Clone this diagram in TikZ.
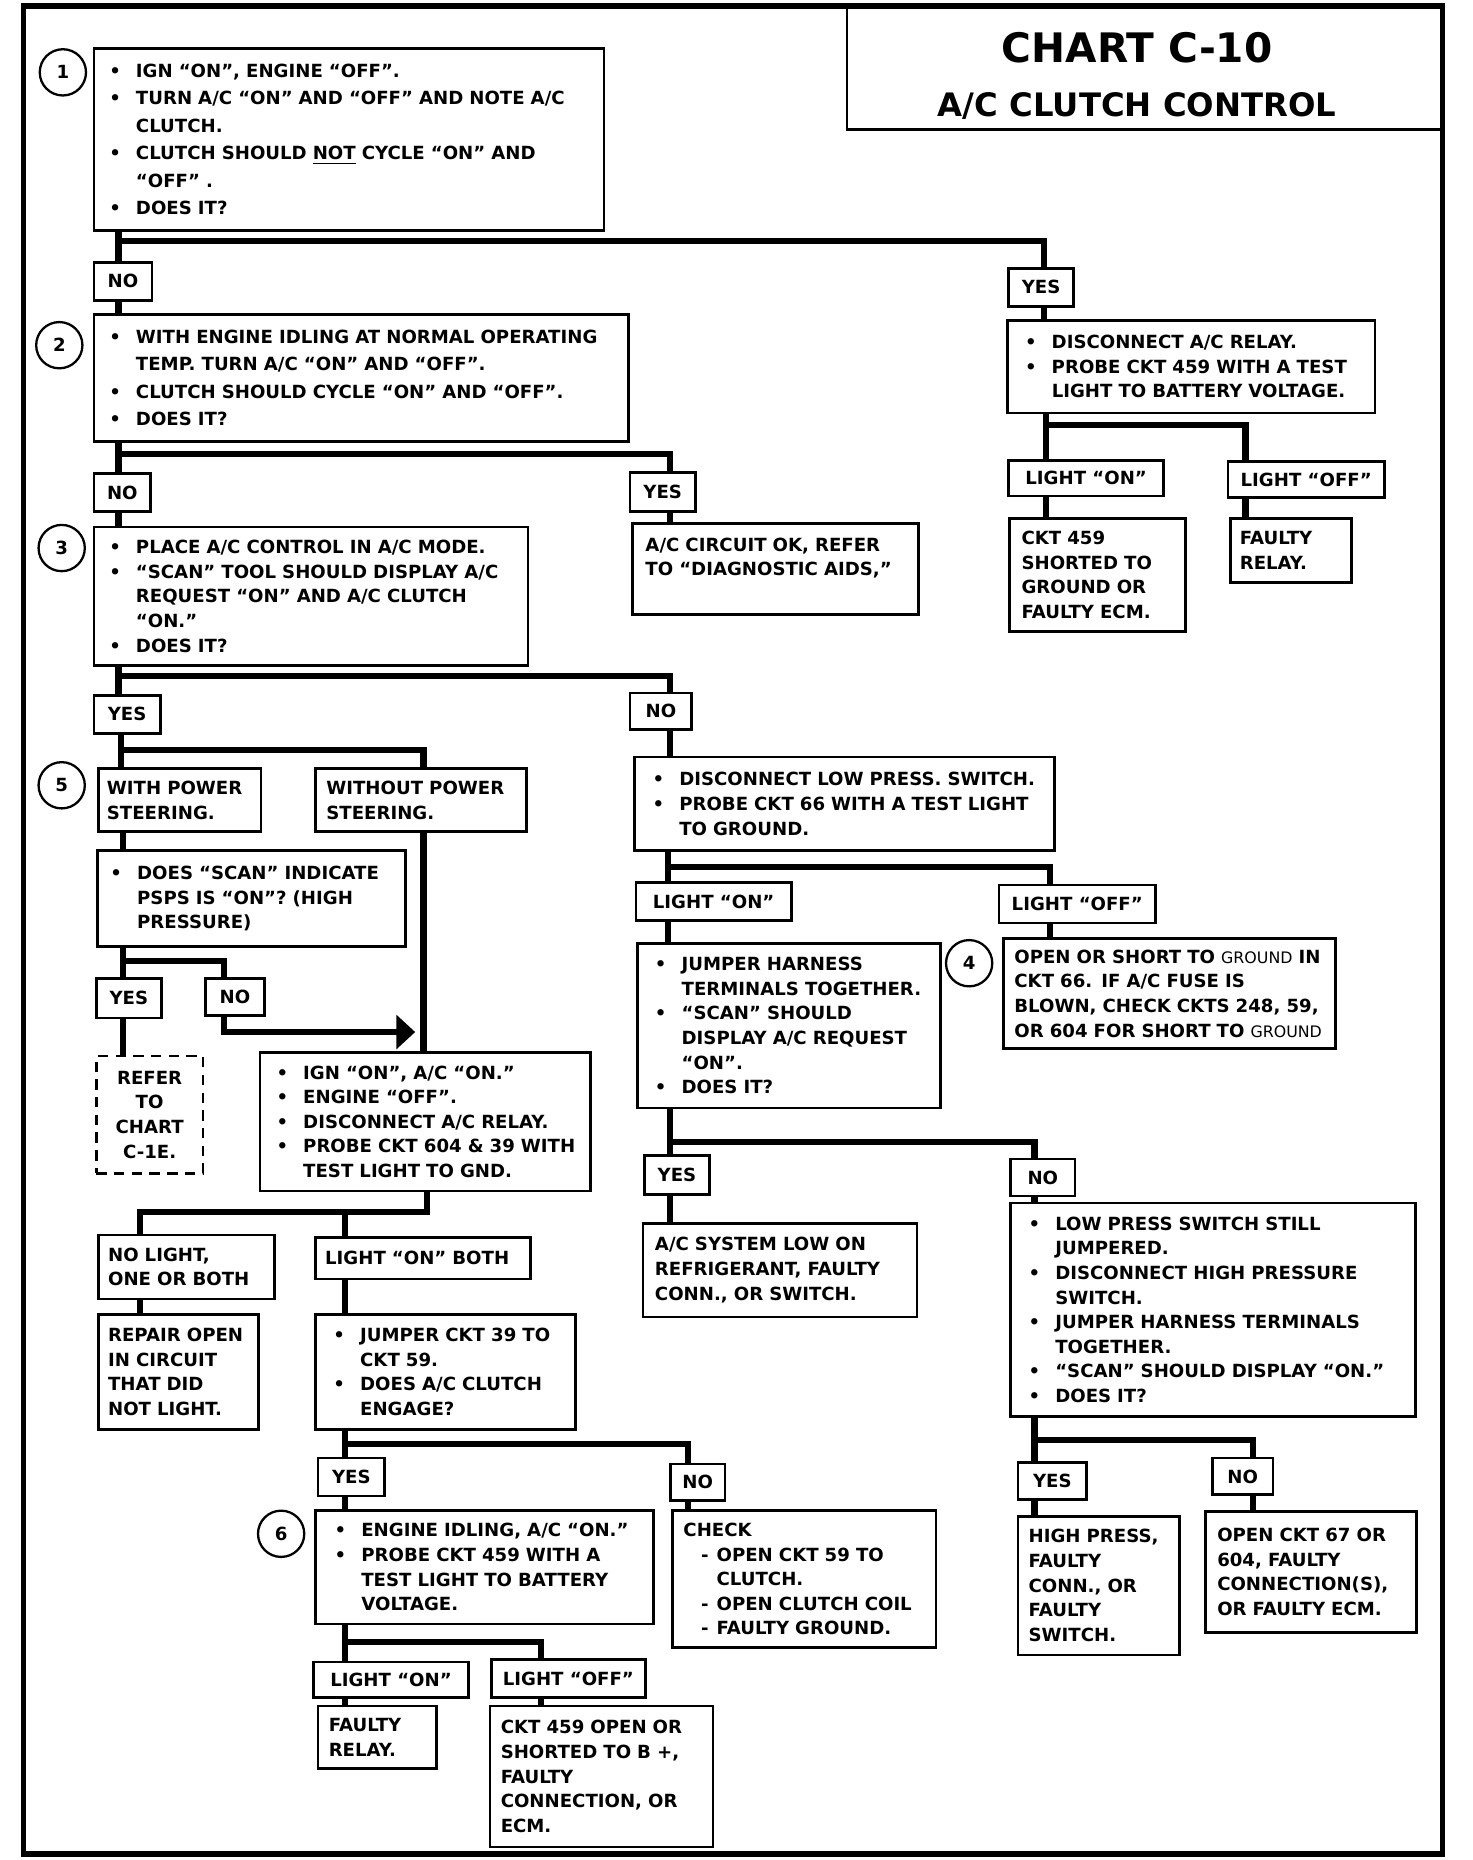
\documentclass[tikz,border=0pt]{standalone}
\usepackage{fontspec}
\setmainfont{DejaVu Sans}
\usetikzlibrary{arrows.meta}

% lines of a box
\newcommand{\bitm}[1]{\makebox[0.45cm][l]{\textbullet}\mbox{#1}}
\newcommand{\citm}[1]{\hspace*{0.45cm}\mbox{#1}}
\newcommand{\ditm}[1]{\hspace*{0.3cm}\makebox[0.26cm][l]{-}\mbox{#1}}
\newcommand{\gnd}{{\mdseries\fontsize{7.6}{11.8}\selectfont GROUND}}

\tikzset{
  every node/.style={font=\bfseries\fontsize{8.7}{11.8}\selectfont},
  loose/.style={font=\bfseries\fontsize{8.7}{13.2}\selectfont},
  stepbox/.style={draw, line width=1.3pt, anchor=north west, align=left, inner ysep=0pt},
  tag/.style={draw, line width=1.3pt, anchor=north west, inner sep=0pt},
  numcirc/.style={draw, circle, line width=1.1pt, minimum size=0.78cm, inner sep=0pt},
  link/.style={line width=3pt}
}

\begin{document}
\begin{tikzpicture}[x=0.02cm,y=-0.02cm]
  \useasboundingbox (0,0) rectangle (1241,1568);
  \draw[line width=2.6pt] (20,5) rectangle (1216,1563);
  \node[draw, line width=1.3pt, anchor=north west, minimum width=10.06cm, minimum height=2.06cm,
    align=center, font=\bfseries\fontsize{19.5}{26}\selectfont] (title) at (713,5)
    {\rule{0pt}{22pt}CHART C-10\hspace*{0.28cm}\\{\fontsize{15.5}{26}\selectfont A/C CLUTCH CONTROL\hspace*{0.28cm}}};

  % step numbers
  \node[numcirc] (n1) at (53,61) {1};
  \node[numcirc] (n2) at (50,291) {2};
  \node[numcirc] (n3) at (52,462) {3};
  \node[numcirc] (n5) at (52,662) {5};
  \node[numcirc] (n4) at (817,812) {4};
  \node[numcirc] (n6) at (237,1293) {6};

  % left column
  \node[stepbox, loose, minimum width=8.6cm, minimum height=3.06cm, text width=8.08cm, inner xsep=0.26cm] (chk1) at (78,40)
    {\bitm{IGN “ON”, ENGINE “OFF”.}\\
     \bitm{TURN A/C “ON”  AND “OFF”  AND NOTE A/C}\\
     \citm{CLUTCH.}\\
     \bitm{CLUTCH SHOULD \underline{NOT} CYCLE  “ON” AND}\\
     \citm{“OFF” .}\\
     \bitm{DOES IT?}};
  \node[tag, minimum width=0.98cm, minimum height=0.64cm] (no1) at (78,220) {NO};
  \node[stepbox, loose, minimum width=9.02cm, minimum height=2.14cm, text width=8.5cm, inner xsep=0.26cm] (chk2) at (78,264)
    {\bitm{WITH ENGINE IDLING AT NORMAL OPERATING}\\
     \citm{TEMP. TURN A/C “ON” AND “OFF”.}\\
     \bitm{CLUTCH SHOULD CYCLE “ON” AND “OFF”.}\\
     \bitm{DOES IT?}};
  \node[tag, minimum width=0.96cm, minimum height=0.64cm] (no2) at (78,398) {NO};
  \node[tag, minimum width=1.1cm, minimum height=0.66cm] (yes2) at (530,397) {YES};
  \node[stepbox, minimum width=4.82cm, minimum height=1.54cm, text width=4.38cm, inner xsep=0.22cm] (acok) at (532,440)
    {\mbox{A/C CIRCUIT OK, REFER}\\\mbox{TO “DIAGNOSTIC AIDS,”}\\\mbox{}};
  \node[stepbox, minimum width=7.32cm, minimum height=2.34cm, text width=6.8cm, inner xsep=0.26cm] (chk3) at (78,443)
    {\bitm{PLACE A/C CONTROL IN A/C MODE.}\\
     \bitm{“SCAN” TOOL SHOULD DISPLAY A/C}\\
     \citm{REQUEST “ON” AND A/C CLUTCH}\\
     \citm{“ON.”}\\
     \bitm{DOES IT?}};
  \node[tag, minimum width=1.12cm, minimum height=0.64cm] (yes3) at (78,585) {YES};
  \node[tag, minimum width=1.04cm, minimum height=0.62cm] (no3) at (530,583) {NO};
  \node[stepbox, minimum width=2.74cm, minimum height=1.06cm, text width=2.46cm, inner xsep=0.14cm] (withps) at (82,647)
    {WITH POWER\\STEERING.};
  \node[stepbox, minimum width=3.56cm, minimum height=1.06cm, text width=3.2cm, inner xsep=0.18cm] (nops) at (265,647)
    {WITHOUT POWER\\STEERING.};
  \node[stepbox, minimum width=5.2cm, minimum height=1.62cm, text width=4.76cm, inner xsep=0.22cm] (psps) at (81,716)
    {\bitm{DOES “SCAN” INDICATE}\\
     \citm{PSPS IS “ON”? (HIGH}\\
     \citm{PRESSURE)}};
  \node[tag, minimum width=1.1cm, minimum height=0.66cm] (yes4) at (80,824) {YES};
  \node[tag, minimum width=1.0cm, minimum height=0.62cm] (no4) at (172,824) {NO};
  \node[stepbox, dash pattern=on 5pt off 3.5pt, align=center, inner xsep=0pt, minimum width=1.8cm, minimum height=1.98cm] (refer) at (80,889)
    {REFER\\TO\\CHART\\C-1E.};
  \node[stepbox, minimum width=5.58cm, minimum height=2.34cm, text width=5.02cm, inner xsep=0.28cm] (ign) at (218,886)
    {\bitm{IGN “ON”, A/C “ON.”}\\
     \bitm{ENGINE “OFF”.}\\
     \bitm{DISCONNECT A/C RELAY.}\\
     \bitm{PROBE CKT 604 \& 39 WITH}\\
     \citm{TEST LIGHT TO GND.}};
  \node[stepbox, minimum width=2.96cm, minimum height=1.08cm, text width=2.64cm, inner xsep=0.16cm] (nolight) at (82,1040)
    {NO LIGHT,\\ONE OR BOTH};
  \node[stepbox, minimum width=3.62cm, minimum height=0.7cm, text width=3.3cm, inner xsep=0.16cm] (lonboth) at (265,1042)
    {LIGHT “ON” BOTH};
  \node[stepbox, minimum width=2.7cm, minimum height=1.94cm, text width=2.38cm, inner xsep=0.16cm] (repair) at (82,1107)
    {REPAIR OPEN\\IN CIRCUIT\\THAT DID\\NOT LIGHT.};
  \node[stepbox, minimum width=4.38cm, minimum height=1.94cm, text width=3.78cm, inner xsep=0.3cm] (jump39) at (265,1107)
    {\bitm{JUMPER CKT 39 TO}\\
     \citm{CKT 59.}\\
     \bitm{DOES A/C CLUTCH}\\
     \citm{ENGAGE?}};
  \node[tag, minimum width=1.12cm, minimum height=0.64cm] (yes5) at (267,1228) {YES};
  \node[tag, minimum width=0.92cm, minimum height=0.62cm] (no5) at (564,1233) {NO};
  \node[stepbox, minimum width=5.7cm, minimum height=1.92cm, text width=5.06cm, inner xsep=0.32cm] (chk6) at (265,1272)
    {\bitm{ENGINE  IDLING, A/C “ON.”}\\
     \bitm{PROBE CKT 459 WITH A}\\
     \citm{TEST LIGHT TO BATTERY}\\
     \citm{VOLTAGE.}};
  \node[stepbox, minimum width=4.44cm, minimum height=2.32cm, text width=4.08cm, inner xsep=0.18cm] (check) at (566,1272)
    {CHECK\\
     \ditm{OPEN CKT 59 TO}\\
     \hspace*{0.56cm}\mbox{CLUTCH.}\\
     \ditm{OPEN CLUTCH COIL}\\
     \ditm{FAULTY GROUND.}};
  \node[tag, minimum width=2.62cm, minimum height=0.6cm] (lon6) at (263,1400) {LIGHT “ON”};
  \node[tag, minimum width=2.6cm, minimum height=0.64cm] (loff6) at (413,1398) {LIGHT “OFF”};
  \node[stepbox, minimum width=2.0cm, minimum height=1.06cm, text width=1.64cm, inner xsep=0.18cm] (relay6) at (267,1437)
    {FAULTY\\RELAY.};
  \node[stepbox, minimum width=3.76cm, minimum height=2.38cm, text width=3.4cm, inner xsep=0.18cm] (open459) at (412,1437)
    {CKT 459 OPEN OR\\SHORTED TO B +,\\FAULTY\\CONNECTION, OR\\ECM.};

  % right column
  \node[tag, minimum width=1.1cm, minimum height=0.64cm] (yes1) at (849,225) {YES};
  \node[stepbox, minimum width=6.2cm, minimum height=1.56cm, text width=5.6cm, inner xsep=0.3cm] (relay) at (848,269)
    {\bitm{DISCONNECT A/C RELAY.}\\
     \bitm{PROBE CKT 459 WITH A TEST}\\
     \citm{LIGHT TO BATTERY VOLTAGE.}};
  \node[tag, minimum width=2.62cm, minimum height=0.6cm] (lonR) at (849,387) {LIGHT “ON”};
  \node[tag, minimum width=2.64cm, minimum height=0.6cm] (loffR) at (1034,388) {LIGHT “OFF”};
  \node[stepbox, minimum width=2.96cm, minimum height=1.9cm, text width=2.56cm, inner xsep=0.2cm] (short459) at (850,436)
    {CKT 459\\SHORTED TO\\GROUND OR\\FAULTY ECM.};
  \node[stepbox, minimum width=2.04cm, minimum height=1.08cm, text width=1.72cm, inner xsep=0.16cm] (relayR) at (1036,436)
    {FAULTY\\RELAY.};
  \node[stepbox, minimum width=7.08cm, minimum height=1.58cm, text width=6.48cm, inner xsep=0.3cm] (lowsw) at (534,637)
    {\bitm{DISCONNECT LOW PRESS. SWITCH.}\\
     \bitm{PROBE CKT 66 WITH A TEST LIGHT}\\
     \citm{TO GROUND.}};
  \node[tag, minimum width=2.62cm, minimum height=0.64cm] (lonM) at (535,743) {LIGHT “ON”};
  \node[tag, minimum width=2.64cm, minimum height=0.64cm] (loffM) at (841,745) {LIGHT “OFF”};
  \node[stepbox, minimum width=5.12cm, minimum height=2.78cm, text width=4.52cm, inner xsep=0.3cm] (chk4) at (536,794)
    {\bitm{JUMPER HARNESS}\\
     \citm{TERMINALS TOGETHER.}\\
     \bitm{“SCAN” SHOULD}\\
     \citm{DISPLAY A/C REQUEST}\\
     \citm{“ON”.}\\
     \bitm{DOES IT?}};
  \node[stepbox, minimum width=5.6cm, minimum height=1.86cm, text width=5.24cm, inner xsep=0.18cm] (gndshort) at (845,790)
    {\mbox{OPEN OR SHORT TO \gnd\ IN}\\
     \mbox{CKT 66.  IF A/C FUSE IS}\\
     \mbox{BLOWN, CHECK CKTS 248, 59,}\\
     \mbox{OR 604 FOR SHORT TO \gnd}};
  \node[tag, minimum width=1.1cm, minimum height=0.66cm] (yes6) at (542,973) {YES};
  \node[tag, minimum width=1.08cm, minimum height=0.62cm] (no6) at (851,976) {NO};
  \node[stepbox, minimum width=4.62cm, minimum height=1.58cm, text width=4.22cm, inner xsep=0.2cm] (lowref) at (541,1030)
    {A/C SYSTEM LOW ON\\REFRIGERANT, FAULTY\\CONN., OR SWITCH.};
  \node[stepbox, minimum width=6.82cm, minimum height=3.6cm, text width=6.22cm, inner xsep=0.3cm] (hiswitch) at (851,1013)
    {\bitm{LOW PRESS SWITCH STILL}\\
     \citm{JUMPERED.}\\
     \bitm{DISCONNECT HIGH PRESSURE}\\
     \citm{SWITCH.}\\
     \bitm{JUMPER HARNESS TERMINALS}\\
     \citm{TOGETHER.}\\
     \bitm{“SCAN” SHOULD DISPLAY “ON.”}\\
     \bitm{DOES IT?}};
  \node[tag, minimum width=1.16cm, minimum height=0.62cm] (yes7) at (857,1232) {YES};
  \node[tag, minimum width=1.02cm, minimum height=0.62cm] (no7) at (1021,1228) {NO};
  \node[stepbox, minimum width=2.72cm, minimum height=2.34cm, text width=2.36cm, inner xsep=0.18cm] (hipress) at (857,1277)
    {HIGH PRESS,\\FAULTY\\CONN., OR\\FAULTY\\SWITCH.};
  \node[stepbox, minimum width=3.56cm, minimum height=2.04cm, text width=3.16cm, inner xsep=0.2cm] (open67) at (1015,1273)
    {OPEN CKT 67 OR\\604, FAULTY\\CONNECTION(S),\\OR FAULTY ECM.};

  % branch points
  \coordinate (jA1) at (100,203);  \coordinate (jA2) at (880,203);
  \coordinate (jB1) at (100,383);  \coordinate (jB2) at (565,383);
  \coordinate (jC1) at (100,570);  \coordinate (jC2) at (565,570);
  \coordinate (jD1) at (102,632);  \coordinate (jD2) at (357,632);
  \coordinate (jE1) at (104,810);  \coordinate (jE2) at (189,810);
  \coordinate (jE3) at (189,870);  \coordinate (tipE) at (350,870);
  \coordinate (jF1) at (360,1022); \coordinate (jF2) at (118,1022); \coordinate (jF3) at (291,1022);
  \coordinate (jG1) at (291,1217); \coordinate (jG2) at (580,1217);
  \coordinate (jH1) at (291,1384); \coordinate (jH2) at (456,1384);
  \coordinate (jI1) at (882,358);  \coordinate (jI2) at (1050,358);
  \coordinate (jJ1) at (563,731);  \coordinate (jJ2) at (885,731);
  \coordinate (jK1) at (565,963);  \coordinate (jK2) at (872,963);
  \coordinate (jL1) at (872,1214); \coordinate (jL2) at (1056,1214);

  % connectors
  \draw[link] (chk1.south -| jA1) -- (no1.north -| jA1);
  \draw[link] (no1.south -| jA1) -- (chk2.north -| jA1);
  \draw[link] (jA1) -- (jA2) -- (yes1.north -| jA2);
  \draw[link] (yes1.south -| jA2) -- (relay.north -| jA2);
  \draw[link] (chk2.south -| jB1) -- (no2.north -| jB1);
  \draw[link] (no2.south -| jB1) -- (chk3.north -| jB1);
  \draw[link] (jB1) -- (jB2) -- (yes2.north -| jB2);
  \draw[link] (yes2.south -| jB2) -- (acok.north -| jB2);
  \draw[link] (chk3.south -| jC1) -- (yes3.north -| jC1);
  \draw[link] (jC1) -- (jC2) -- (no3.north -| jC2);
  \draw[link] (no3.south -| jC2) -- (lowsw.north -| jC2);
  \draw[link] (yes3.south -| jD1) -- (withps.north -| jD1);
  \draw[link] (jD1) -- (jD2) -- (nops.north -| jD2);
  \draw[link] (withps.south -| jE1) -- (psps.north -| jE1);
  \draw[link] (psps.south -| jE1) -- (yes4.north -| jE1);
  \draw[link] (yes4.south -| jE1) -- (refer.north -| jE1);
  \draw[link] (jE1) -- (jE2) -- (no4.north -| jE2);
  \draw[link,-{Triangle[length=9pt,width=16pt]}] (no4.south -| jE2) -- (jE3) -- (tipE);
  \draw[link] (nops.south -| jD2) -- (ign.north -| jD2);
  \draw[link] (ign.south -| jF1) -- (jF1) -- (jF2) -- (nolight.north -| jF2);
  \draw[link] (jF3) -- (lonboth.north -| jF3);
  \draw[link] (nolight.south -| jF2) -- (repair.north -| jF2);
  \draw[link] (lonboth.south -| jF3) -- (jump39.north -| jF3);
  \draw[link] (jump39.south -| jG1) -- (yes5.north -| jG1);
  \draw[link] (yes5.south -| jG1) -- (chk6.north -| jG1);
  \draw[link] (jG1) -- (jG2) -- (no5.north -| jG2);
  \draw[link] (no5.south -| jG2) -- (check.north -| jG2);
  \draw[link] (chk6.south -| jH1) -- (lon6.north -| jH1);
  \draw[link] (lon6.south -| jH1) -- (relay6.north -| jH1);
  \draw[link] (jH1) -- (jH2) -- (loff6.north -| jH2);
  \draw[link] (loff6.south -| jH2) -- (open459.north -| jH2);
  \draw[link] (relay.south -| jI1) -- (lonR.north -| jI1);
  \draw[link] (lonR.south -| jI1) -- (short459.north -| jI1);
  \draw[link] (jI1) -- (jI2) -- (loffR.north -| jI2);
  \draw[link] (loffR.south -| jI2) -- (relayR.north -| jI2);
  \draw[link] (lowsw.south -| jJ1) -- (lonM.north -| jJ1);
  \draw[link] (lonM.south -| jJ1) -- (chk4.north -| jJ1);
  \draw[link] (jJ1) -- (jJ2) -- (loffM.north -| jJ2);
  \draw[link] (loffM.south -| jJ2) -- (gndshort.north -| jJ2);
  \draw[link] (chk4.south -| jK1) -- (yes6.north -| jK1);
  \draw[link] (yes6.south -| jK1) -- (lowref.north -| jK1);
  \draw[link] (jK1) -- (jK2) -- (no6.north -| jK2);
  \draw[link] (no6.south -| jK2) -- (hiswitch.north -| jK2);
  \draw[link] (hiswitch.south -| jL1) -- (yes7.north -| jL1);
  \draw[link] (yes7.south -| jL1) -- (hipress.north -| jL1);
  \draw[link] (jL1) -- (jL2) -- (no7.north -| jL2);
  \draw[link] (no7.south -| jL2) -- (open67.north -| jL2);
\end{tikzpicture}
\end{document}
